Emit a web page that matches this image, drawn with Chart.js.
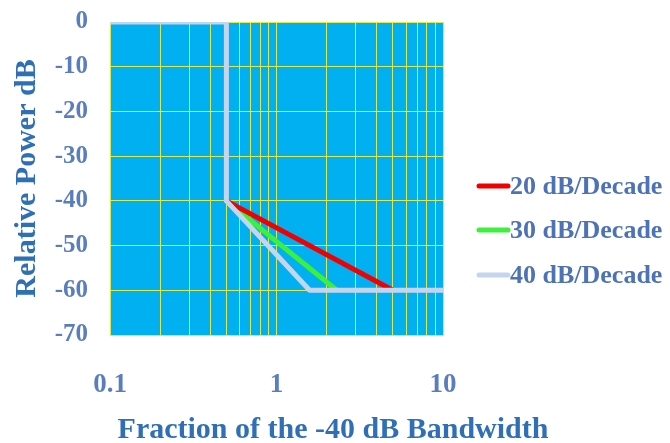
<!DOCTYPE html>
<html>
<head>
<meta charset="utf-8">
<script src="https://cdn.jsdelivr.net/npm/chart.js@4.4.1/dist/chart.umd.min.js"></script>
<style>
  html, body { margin: 0; padding: 0; background: #fff; }
  #wrap { width: 670px; height: 443px; }
</style>
</head>
<body>
<div id="wrap"><canvas id="chart" width="670" height="443"></canvas></div>
<script>
// Filter roll-off masks: relative power vs fraction of the -40 dB bandwidth.
const X_TICKS = [0.1, 0.2, 0.3, 0.4, 0.5, 0.6, 0.7, 0.8, 0.9,
                 1, 2, 3, 4, 5, 6, 7, 8, 9, 10];
const X_LABELED = [0.1, 1, 10];

const LABELS = ["20 dB/Decade", "30 dB/Decade", "40 dB/Decade"];

const RED_X = [0.5, 5];
const RED_Y = [-40, -60];
const GREEN_X = [0.5, 2.3];
const GREEN_Y = [-40, -60];
const LIGHT_X = [0.1, 0.5, 0.5, 1.58, 10];
const LIGHT_Y = [0, 0, -40, -60, -60];

const COLORS = ["#f00000", "#3cf03c", "#c6d5ee"];

const SERIF = "'Liberation Serif', 'Times New Roman', serif";
const TICK_COLOR = "#5a7dbd";
const TITLE_COLOR = "#2f6fb5";
const GRID_COLOR = "#dcea50";

const pts = (xs, ys) => xs.map((x, i) => ({ x, y: ys[i] }));

// blue plot background
const plotBg = {
  id: "plotBg",
  beforeDraw(chart) {
    const { ctx, chartArea: a } = chart;
    ctx.save();
    ctx.fillStyle = "#00b0f0";
    ctx.fillRect(a.left, a.top, a.right - a.left, a.bottom - a.top);
    ctx.restore();
  },
};

// legend on the right (line sample butted against its text) and the
// x title, which sits centred on the whole picture, not the plot
const sideLegend = {
  id: "sideLegend",
  afterDraw(chart) {
    const ctx = chart.ctx;
    const rows = [186, 230, 275];
    ctx.save();
    ctx.font = `bold 26px ${SERIF}`;
    ctx.textBaseline = "middle";
    ctx.textAlign = "left";
    chart.data.datasets.forEach((ds, i) => {
      const y = rows[i];
      ctx.strokeStyle = ds.borderColor;
      ctx.lineWidth = 5;
      ctx.lineCap = "round";
      ctx.beginPath();
      ctx.moveTo(479, y);
      ctx.lineTo(508, y);
      ctx.stroke();
      ctx.fillStyle = "#4d72b6";
      ctx.fillText(ds.label, 510, y + 1);
    });

    ctx.font = `bold 30px ${SERIF}`;
    ctx.textAlign = "center";
    ctx.textBaseline = "alphabetic";
    ctx.fillStyle = TITLE_COLOR;
    ctx.fillText("Fraction of the -40 dB Bandwidth", 333, 438);
    ctx.restore();
  },
};

const line = (i, xs, ys, order) => ({
  label: LABELS[i],
  data: pts(xs, ys),
  borderColor: COLORS[i],
  backgroundColor: COLORS[i],
  borderWidth: 5,
  pointRadius: 0,
  tension: 0,
  borderJoinStyle: "round",
  order,
});

new Chart(document.getElementById("chart"), {
  type: "line",
  data: {
    datasets: [
      line(0, RED_X, RED_Y, 1),
      line(1, GREEN_X, GREEN_Y, 2),
      line(2, LIGHT_X, LIGHT_Y, 0),
    ],
  },
  options: {
    responsive: false,
    animation: false,
    layout: { padding: { left: 0, right: 227, top: 22, bottom: 0 } },
    plugins: {
      legend: { display: false },
      tooltip: { enabled: false },
    },
    scales: {
      x: {
        type: "logarithmic",
        min: 0.1,
        max: 10,
        afterBuildTicks: (s) => { s.ticks = X_TICKS.map((v) => ({ value: v })); },
        afterFit: (s) => { s.height = 108; },
        grid: { color: GRID_COLOR, lineWidth: 1, drawTicks: false },
        border: { color: GRID_COLOR },
        ticks: {
          autoSkip: false,
          maxRotation: 0,
          padding: 34,
          color: TICK_COLOR,
          font: { family: SERIF, size: 27, weight: "bold" },
          callback: (v) => (X_LABELED.includes(v) ? String(v) : ""),
        },
      },
      y: {
        min: -70,
        max: 0,
        // tick padding would otherwise push the plot down from the top
        afterFit: (s) => { s.width = 110; s.paddingTop = 0; s.paddingBottom = 0; },
        grid: { color: GRID_COLOR, lineWidth: 1, drawTicks: false },
        border: { color: GRID_COLOR },
        ticks: {
          stepSize: 10,
          padding: 22,
          color: TICK_COLOR,
          font: { family: SERIF, size: 25, weight: "bold" },
        },
        title: {
          display: true,
          text: "Relative Power dB",
          color: TITLE_COLOR,
          font: { family: SERIF, size: 30, weight: "bold", lineHeight: 1.2 },
          padding: { top: 9, bottom: 0 },
        },
      },
    },
  },
  plugins: [plotBg, sideLegend],
});
</script>
</body>
</html>
